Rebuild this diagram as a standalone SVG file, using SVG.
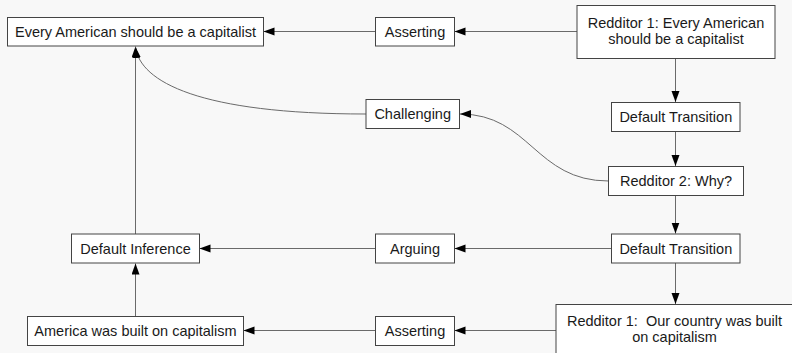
<svg xmlns="http://www.w3.org/2000/svg" width="792" height="353" viewBox="0 0 792 353">
<style>
.bg{fill:#f8f8f8}
.box{fill:#ffffff;stroke:#444444;stroke-width:1}
.t{font-family:"Liberation Sans",Arial,sans-serif;font-size:14.5px;fill:#1a1a1a;text-anchor:middle;white-space:pre}
.c{fill:none;stroke:#6a6a6a;stroke-width:1;marker-end:url(#ah)}
</style>
<defs>
<marker id="ah" markerUnits="userSpaceOnUse" markerWidth="12" markerHeight="9" refX="11" refY="4" orient="auto">
<path d="M0,0 L11,4 L0,8 Z" fill="#000000"/>
</marker>
</defs>
<rect class="bg" x="0" y="0" width="792" height="353"/>
<g id="connectors">
<line class="c" x1="375.5" y1="31.5" x2="263.5" y2="31.5"/>
<line class="c" x1="577" y1="31.5" x2="454.5" y2="31.5"/>
<line class="c" x1="675.5" y1="58.5" x2="675.5" y2="102"/>
<line class="c" x1="675.5" y1="131.5" x2="675.5" y2="166"/>
<line class="c" x1="675.5" y1="195.5" x2="675.5" y2="233.5"/>
<line class="c" x1="611.5" y1="248.5" x2="454.5" y2="248.5"/>
<line class="c" x1="375.5" y1="248.5" x2="199.5" y2="248.5"/>
<line class="c" x1="675.5" y1="263" x2="675.5" y2="304"/>
<line class="c" x1="556" y1="330.5" x2="454.5" y2="330.5"/>
<line class="c" x1="375.5" y1="330.5" x2="243.5" y2="330.5"/>
<line class="c" x1="135.5" y1="316" x2="135.5" y2="263.5"/>
<line class="c" x1="135.5" y1="234" x2="135.5" y2="46.5"/>
<path class="c" d="M366,114 C200,114 140,82 135.5,47"/>
<path class="c" d="M608.5,181 C535,181 530,114 460,114"/>
</g>
<g id="n-every">
<rect class="box" x="7.5" y="17.5" width="256" height="28.5"/>
<text class="t" x="135.5" y="37">Every American should be a capitalist</text>
</g>
<g id="n-asserting1">
<rect class="box" x="375.5" y="17.5" width="79" height="28.5"/>
<text class="t" x="415" y="37">Asserting</text>
</g>
<g id="n-redditor1a">
<rect class="box" x="577" y="5.5" width="198" height="53"/>
<text class="t" x="676" y="28.3">Redditor 1: Every American</text>
<text class="t" x="676" y="44.3">should be a capitalist</text>
</g>
<g id="n-challenging">
<rect class="box" x="366" y="99.5" width="93.5" height="29"/>
<text class="t" x="412.7" y="119">Challenging</text>
</g>
<g id="n-dt1">
<rect class="box" x="611.5" y="102.5" width="128.5" height="29"/>
<text class="t" x="675.8" y="122">Default Transition</text>
</g>
<g id="n-redditor2">
<rect class="box" x="608.5" y="166.5" width="135" height="29"/>
<text class="t" x="676" y="186">Redditor 2: Why?</text>
</g>
<g id="n-inference">
<rect class="box" x="71.5" y="234" width="128" height="29"/>
<text class="t" x="135.5" y="253.5">Default Inference</text>
</g>
<g id="n-arguing">
<rect class="box" x="375.5" y="234" width="79" height="29"/>
<text class="t" x="415" y="253.5">Arguing</text>
</g>
<g id="n-dt2">
<rect class="box" x="611.5" y="234" width="128.5" height="29"/>
<text class="t" x="675.8" y="253.5">Default Transition</text>
</g>
<g id="n-america">
<rect class="box" x="27.5" y="316.5" width="216" height="29"/>
<text class="t" x="135.5" y="336">America was built on capitalism</text>
</g>
<g id="n-asserting2">
<rect class="box" x="375.5" y="316.5" width="79" height="29"/>
<text class="t" x="415" y="336">Asserting</text>
</g>
<g id="n-redditor1b">
<rect class="box" x="556" y="304.5" width="240" height="60"/>
<text class="t" x="674.5" y="325.7">Redditor 1:  Our country was built</text>
<text class="t" x="674.5" y="341.7">on capitalism</text>
</g>
</svg>
